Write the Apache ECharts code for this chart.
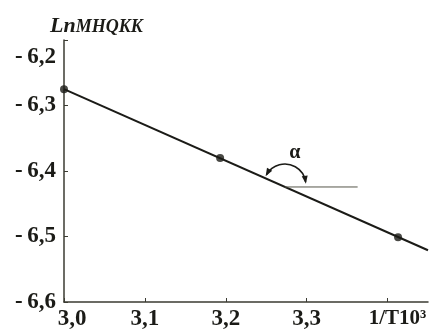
<!DOCTYPE html>
<html>
<head>
<meta charset="utf-8">
<style>
  html, body { margin: 0; padding: 0; background: #fff; }
  #chart { width: 432px; height: 333px; }
</style>
<script src="https://cdn.jsdelivr.net/npm/echarts@6/dist/echarts.min.js"></script>
</head>
<body>
<div id="chart"></div>
<script>
// Measured points: 1/T·10³ against ln of the constant
const pointX = [3.0, 3.193, 3.413];
const pointY = [-6.275, -6.380, -6.501];

// Fitted straight line through the points, drawn to the right edge of the plot
const fitX = [3.0, 3.45];
const fitY = [-6.275, -6.521];

// Slope angle marker: where the horizontal reference leaves the line, and its end
const angleX = [3.273, 3.363];
const angleY = [-6.4244, -6.4244];

// Axis ticks
const xTicks = [3.0, 3.1, 3.2, 3.3, 3.4];
const yTicks = [-6.6, -6.5, -6.4, -6.3, -6.2];
const xLastLabel = '1/T10\u00B3';
const yName = ['Ln', 'MHQKK'];

const serif = "'Liberation Serif', 'Times New Roman', Times, serif";
const ink = '#1b1b17';
const axisInk = '#3b3b32';

const chart = echarts.init(document.getElementById('chart'), null, { renderer: 'canvas' });

function fmtComma(v) {
  return Math.abs(v).toFixed(1).replace('.', ',');
}

const option = {
  backgroundColor: '#ffffff',
  animation: false,
  title: {
    text: '{a|' + yName[0] + '}{b|' + yName[1] + '}',
    left: 50,
    top: 15,
    padding: 0,
    textStyle: {
      rich: {
        a: { fontFamily: serif, fontSize: 22, lineHeight: 22, fontWeight: 'bold', fontStyle: 'italic', color: ink, verticalAlign: 'bottom' },
        b: { fontFamily: serif, fontSize: 18, lineHeight: 22, fontWeight: 'bold', fontStyle: 'italic', color: ink, verticalAlign: 'bottom', padding: [0, 0, 1, 0] }
      }
    }
  },
  grid: {
    left: 64, right: 4, top: 40, bottom: 31,
    outerBoundsMode: 'none',
    containLabel: false
  },
  xAxis: {
    type: 'value',
    min: 3.0,
    max: 3.45,
    interval: 0.1,
    splitLine: { show: false },
    axisLine: { show: true, onZero: false, lineStyle: { color: axisInk, width: 1.5 } },
    axisTick: {
      show: true, inside: true, length: 4,
      customValues: xTicks,
      lineStyle: { color: axisInk, width: 1 }
    },
    axisLabel: {
      customValues: xTicks,
      margin: 6,
      fontFamily: serif,
      fontSize: 23,
      fontWeight: 'bold',
      color: ink,
      formatter: function (v) {
        if (Math.abs(v - 3.4) < 1e-6) return '{last|' + xLastLabel + '}';
        if (Math.abs(v - 3.0) < 1e-6) return '{first|' + fmtComma(v) + '}';
        return fmtComma(v);
      },
      rich: {
        first: { fontFamily: serif, fontSize: 23, fontWeight: 'bold', color: ink, padding: [0, 0, 0, 16] },
        last: { fontFamily: serif, fontSize: 21, fontWeight: 'bold', color: ink, padding: [0, 0, 0, 20] }
      }
    }
  },
  yAxis: {
    type: 'value',
    min: -6.6,
    max: -6.2,
    interval: 0.1,
    splitLine: { show: false },
    axisLine: { show: true, onZero: false, lineStyle: { color: axisInk, width: 1.5 } },
    axisTick: {
      show: true, inside: true, length: 4,
      customValues: yTicks,
      lineStyle: { color: axisInk, width: 1 }
    },
    axisLabel: {
      customValues: yTicks,
      margin: 8,
      fontFamily: serif,
      fontSize: 23,
      fontWeight: 'bold',
      color: ink,
      formatter: function (v) {
        const s = '-\u2009' + fmtComma(v);
        if (Math.abs(v + 6.2) < 1e-6) return '{top|' + s + '}';
        return s;
      },
      rich: {
        top: { fontFamily: serif, fontSize: 23, fontWeight: 'bold', color: ink, padding: [34, 0, 0, 0] }
      }
    }
  },
  series: [
    {
      name: 'fit',
      type: 'line',
      data: fitX.map((x, i) => [x, fitY[i]]),
      symbol: 'none',
      lineStyle: { color: ink, width: 2 },
      z: 2
    },
    {
      name: 'points',
      type: 'scatter',
      data: pointX.map((x, i) => [x, pointY[i]]),
      symbol: 'circle',
      symbolSize: 8,
      itemStyle: { color: ink },
      z: 3
    },
    {
      name: 'horizontal',
      type: 'line',
      data: angleX.map((x, i) => [x, angleY[i]]),
      symbol: 'none',
      lineStyle: { color: '#55554a', width: 1 },
      z: 2
    },
    {
      // Arc with arrowheads showing the slope angle α
      name: 'alpha',
      type: 'custom',
      data: [[angleX[0], angleY[0]]],
      z: 4,
      renderItem: function (params, api) {
        const c = api.coord([api.value(0), api.value(1)]);
        const cx = c[0], cy = c[1] - 2;
        const r = 21;
        const a0 = -2.62, a1 = -0.15;
        function head(theta, dir) {
          // tip sits on the arc end, pointing along the tangent
          const px = cx + r * Math.cos(theta), py = cy + r * Math.sin(theta);
          const tx = -Math.sin(theta) * dir, ty = Math.cos(theta) * dir;
          const nx = -ty, ny = tx;
          const L = 6, W = 3;
          return {
            type: 'polygon',
            shape: { points: [
              [px + tx * 2, py + ty * 2],
              [px - tx * L + nx * W, py - ty * L + ny * W],
              [px - tx * L - nx * W, py - ty * L - ny * W]
            ] },
            style: { fill: ink }
          };
        }
        return {
          type: 'group',
          children: [
            {
              type: 'arc',
              shape: { cx: cx, cy: cy, r: r, startAngle: a0, endAngle: a1, clockwise: true },
              style: { stroke: ink, lineWidth: 1.5, fill: null }
            },
            head(a0, -1),
            head(a1, 1),
            {
              type: 'text',
              x: cx + 10,
              y: cy - 32,
              style: {
                text: '\u03B1',
                fontFamily: serif,
                fontSize: 20,
                fontWeight: 'bold',
                fill: ink,
                align: 'center',
                verticalAlign: 'middle'
              }
            }
          ]
        };
      }
    }
  ]
};

chart.setOption(option);
</script>
</body>
</html>
